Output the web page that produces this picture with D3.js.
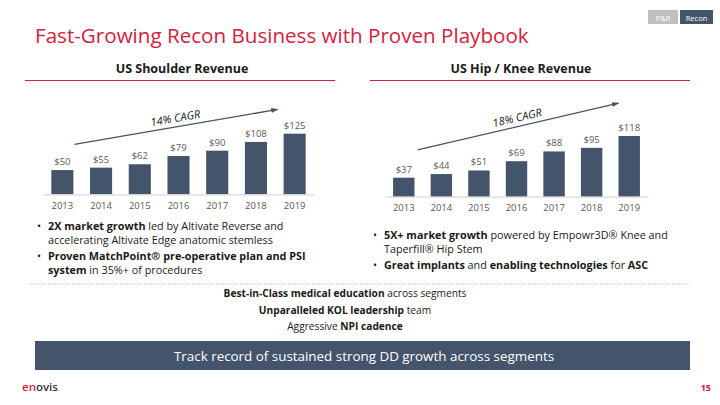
<!DOCTYPE html>
<html>
<head>
<meta charset="utf-8">
<script src="https://cdn.jsdelivr.net/npm/d3@7"></script>
<style>
  body { margin: 0; background: #fff; }
  svg { display: block; font-family: "Open Sans", sans-serif; }
</style>
</head>
<body>
<svg id="slide" width="720" height="405"></svg>
<script>
// data
const years = ['2013', '2014', '2015', '2016', '2017', '2018', '2019'];
const shoulderRevenue = [50, 55, 62, 79, 90, 108, 125];
const hipKneeRevenue = [37, 44, 51, 69, 88, 95, 118];
const chartTitles = ['US Shoulder Revenue', 'US Hip / Knee Revenue'];
const cagrLabels = ['14% CAGR', '18% CAGR'];

const BAR = '#44546a';
const RED = '#d4213d';

class RevenueChart {

    constructor(_config, _values) {
        this.config = {
            parentElement: _config.parentElement,
            xRange: _config.xRange,
            yBase: _config.yBase,
            yTop: _config.yTop,
            maxValue: _config.maxValue,
            title: _config.title,
            titleX: _config.titleX,
            ruleRange: _config.ruleRange,
            cagr: _config.cagr,
            arrowFrom: _config.arrowFrom,
            arrowTo: _config.arrowTo
        };
        this.values = _values;
        this.initVis();
    }

    initVis() {
        let vis = this;

        vis.svg = d3.select(vis.config.parentElement);
        vis.chart = vis.svg.append('g');

        vis.x = d3.scaleBand()
            .domain(years)
            .range(vis.config.xRange)
            .paddingInner(0.43)
            .paddingOuter(0.215);

        vis.y = d3.scaleLinear()
            .domain([0, vis.config.maxValue])
            .range([vis.config.yBase, vis.config.yTop]);

        vis.render();
    }

    render() {
        let vis = this;
        let data = years.map((yr, i) => ({year: yr, value: vis.values[i]}));

        // header + red rule
        vis.chart.append('text')
            .attr('x', vis.config.titleX)
            .attr('y', 73)
            .attr('text-anchor', 'middle')
            .attr('font-size', 12.5)
            .attr('font-weight', 700)
            .attr('fill', '#1a1a1a')
            .text(vis.config.title);

        vis.chart.append('line')
            .attr('x1', vis.config.ruleRange[0])
            .attr('x2', vis.config.ruleRange[1])
            .attr('y1', 80.5).attr('y2', 80.5)
            .attr('stroke', RED)
            .attr('stroke-width', 1.2);

        vis.chart.selectAll('.bar')
            .data(data)
            .join('rect')
            .attr('class', 'bar')
            .attr('x', d => vis.x(d.year))
            .attr('width', vis.x.bandwidth())
            .attr('y', d => vis.y(d.value))
            .attr('height', d => vis.y(0) - vis.y(d.value))
            .attr('fill', BAR);

        vis.chart.selectAll('.bar-label')
            .data(data)
            .join('text')
            .attr('class', 'bar-label')
            .attr('x', d => vis.x(d.year) + vis.x.bandwidth() / 2)
            .attr('y', d => vis.y(d.value) - 5)
            .attr('text-anchor', 'middle')
            .attr('font-size', 9.5)
            .attr('fill', '#595959')
            .text(d => '$' + d.value);

        let axis = vis.chart.append('g')
            .attr('transform', `translate(0,${vis.y(0)})`)
            .call(d3.axisBottom(vis.x).tickSize(0).tickPadding(8));
        axis.select('.domain').attr('stroke', '#d9d9d9').attr('stroke-width', 1.2);
        axis.selectAll('text')
            .attr('font-family', '"Open Sans", sans-serif')
            .attr('font-size', 9.5)
            .attr('fill', '#595959');

        // CAGR arrow, anchored on the bars via the scales
        let a = vis.config.arrowFrom, b = vis.config.arrowTo;
        let x1 = vis.x(years[a[0]]) + vis.x.bandwidth() + a[2];
        let y1 = vis.y(a[1]);
        let x2 = vis.x(years[b[0]]) + b[2];
        let y2 = vis.y(b[1]);

        vis.chart.append('line')
            .attr('x1', x1).attr('y1', y1)
            .attr('x2', x2).attr('y2', y2)
            .attr('stroke', BAR)
            .attr('stroke-width', 1.3)
            .attr('marker-end', 'url(#arrowhead)');

        let angle = Math.atan2(y2 - y1, x2 - x1) * 180 / Math.PI;
        let mx = (x1 + x2) / 2, my = (y1 + y2) / 2;
        vis.chart.append('text')
            .attr('transform', `translate(${mx},${my - 5}) rotate(${angle})`)
            .attr('text-anchor', 'middle')
            .attr('font-size', 11)
            .attr('font-style', 'italic')
            .attr('fill', '#1a1a1a')
            .text(vis.config.cagr);
    }
}

const svg = d3.select('#slide');

svg.append('defs').append('marker')
    .attr('id', 'arrowhead')
    .attr('viewBox', '0 0 10 10')
    .attr('refX', 9).attr('refY', 5)
    .attr('markerWidth', 5.5).attr('markerHeight', 5.5)
    .attr('orient', 'auto')
    .append('path')
    .attr('d', 'M0,1.5 L10,5 L0,8.5 Z')
    .attr('fill', BAR);

// title
svg.append('text')
    .attr('x', 35).attr('y', 43)
    .attr('font-size', 20.6)
    .attr('fill', RED)
    .text('Fast-Growing Recon Business with Proven Playbook');

// section tags
const tags = [{t: 'P&R', x: 648, w: 30, fill: '#bfbfbf'}, {t: 'Recon', x: 680, w: 33, fill: BAR}];
tags.forEach(d => {
    svg.append('rect').attr('x', d.x).attr('y', 10).attr('width', d.w).attr('height', 14).attr('fill', d.fill);
    svg.append('text').attr('x', d.x + d.w / 2).attr('y', 20.5)
        .attr('text-anchor', 'middle').attr('font-size', 7.5).attr('fill', '#fff').text(d.t);
});

new RevenueChart({
    parentElement: '#slide',
    xRange: [43, 314],
    yBase: 194.3,
    yTop: 133.7,
    maxValue: 125,
    title: chartTitles[0],
    titleX: 182,
    ruleRange: [25, 335],
    cagr: cagrLabels[0],
    arrowFrom: [0, 103, 1],
    arrowTo: [6, 175, -6]
}, shoulderRevenue);

new RevenueChart({
    parentElement: '#slide',
    xRange: [385, 648],
    yBase: 196.7,
    yTop: 136,
    maxValue: 118,
    title: chartTitles[1],
    titleX: 521,
    ruleRange: [370, 690],
    cagr: cagrLabels[1],
    arrowFrom: [0, 91, 3],
    arrowTo: [6, 182, 0]
}, hipKneeRevenue);

// bullets: arrays of [text, bold] runs per line
function bulletBlock(x, lines) {
    lines.forEach(l => {
        if (l.bullet) {
            svg.append('text').attr('x', x).attr('y', l.y)
                .attr('font-size', 10.8).attr('fill', '#1a1a1a').text('•');
        }
        let t = svg.append('text').attr('x', x + 11).attr('y', l.y)
            .attr('font-size', 10.8).attr('fill', '#1a1a1a');
        l.runs.forEach(r => {
            t.append('tspan').attr('font-weight', r[1] ? 700 : 400).text(r[0]);
        });
    });
}

bulletBlock(37, [
    {y: 230, bullet: true, runs: [['2X market growth', 1], [' led by Altivate Reverse and', 0]]},
    {y: 244, runs: [['accelerating Altivate Edge anatomic stemless', 0]]},
    {y: 260, bullet: true, runs: [['Proven MatchPoint® pre-operative plan and PSI', 1]]},
    {y: 274, runs: [['system', 1], [' in 35%+ of procedures', 0]]}
]);

bulletBlock(373, [
    {y: 239, bullet: true, runs: [['5X+ market growth', 1], [' powered by Empowr3D® Knee and', 0]]},
    {y: 253, runs: [['Taperfill® Hip Stem', 0]]},
    {y: 269, bullet: true, runs: [['Great implants', 1], [' and ', 0], ['enabling technologies', 1], [' for ', 0], ['ASC', 1]]}
]);

svg.append('line')
    .attr('x1', 30).attr('x2', 690)
    .attr('y1', 284).attr('y2', 284)
    .attr('stroke', '#a6a6a6')
    .attr('stroke-width', 0.8)
    .attr('stroke-dasharray', '1.5,1.5');

const centreLines = [
    {y: 297, runs: [['Best-in-Class medical education', 1], [' across segments', 0]]},
    {y: 313.5, runs: [['Unparalleled KOL leadership', 1], [' team', 0]]},
    {y: 330, runs: [['Aggressive ', 0], ['NPI cadence', 1]]}
];
centreLines.forEach(l => {
    let t = svg.append('text').attr('x', 345).attr('y', l.y)
        .attr('text-anchor', 'middle').attr('font-size', 10.2).attr('fill', '#1a1a1a');
    l.runs.forEach(r => t.append('tspan').attr('font-weight', r[1] ? 700 : 400).text(r[0]));
});

// banner
svg.append('rect').attr('x', 35).attr('y', 341).attr('width', 655).attr('height', 29)
    .attr('fill', BAR);
svg.append('text').attr('x', 364).attr('y', 360.5)
    .attr('text-anchor', 'middle').attr('font-size', 13.4).attr('fill', '#fff')
    .text('Track record of sustained strong DD growth across segments');

// footer
let logo = svg.append('text').attr('x', 22).attr('y', 391)
    .attr('font-size', 11.5).attr('font-weight', 600);
logo.append('tspan').attr('fill', RED).text('en');
logo.append('tspan').attr('fill', '#333').text('ovis');
logo.append('tspan').attr('fill', '#333').attr('font-size', 5).text('.');

svg.append('text').attr('x', 711).attr('y', 391)
    .attr('text-anchor', 'end').attr('font-size', 9).attr('font-weight', 700)
    .attr('fill', RED).text('15');
</script>
</body>
</html>
